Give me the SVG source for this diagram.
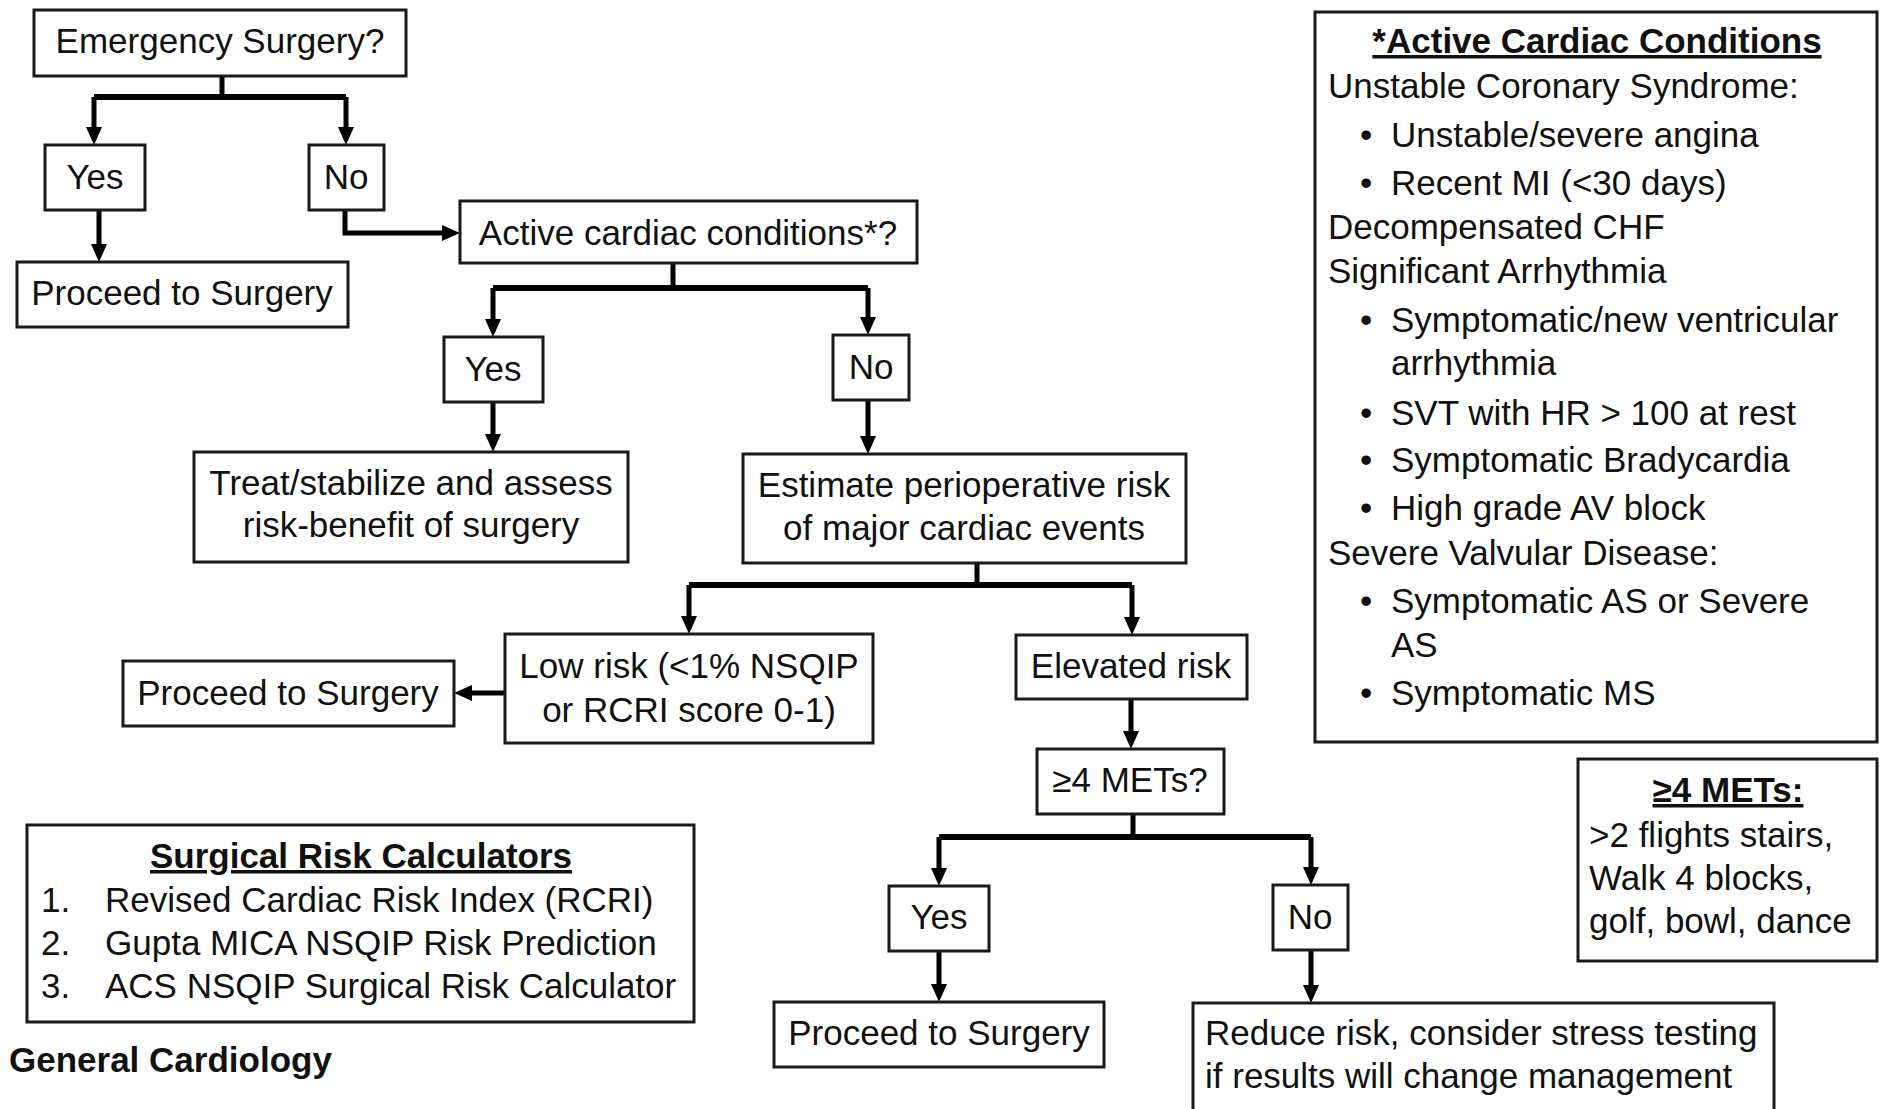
<svg xmlns="http://www.w3.org/2000/svg" width="1880" height="1109" viewBox="0 0 1880 1109">
<style>
.box{fill:#fff;stroke:#1a1a1a;stroke-width:3}
.t{font-family:"Liberation Sans",Arial,sans-serif;font-size:35px;fill:#111}
.c{text-anchor:middle}
.b{font-weight:bold}
.u{text-decoration:underline}
.ln{fill:none;stroke:#000;stroke-width:5}
.bar{fill:none;stroke:#000;stroke-width:6}
</style>
<defs>
<marker id="ah" markerUnits="userSpaceOnUse" markerWidth="18" markerHeight="16" refX="2" refY="8" orient="auto">
<path d="M0,0 L18,8 L0,16 z" fill="#000"/>
</marker>
</defs>
<rect width="1880" height="1109" fill="#fff"/>

<g id="connectors">
<path class="ln" d="M222,76 V97"/>
<path class="bar" d="M94,97 H346"/>
<path class="ln" d="M94,97 V129" marker-end="url(#ah)"/>
<path class="ln" d="M346,97 V129" marker-end="url(#ah)"/>
<path class="ln" d="M99,210 V246" marker-end="url(#ah)"/>
<path class="ln" d="M345,210 V233 H444" marker-end="url(#ah)"/>
<path class="ln" d="M673,263 V288"/>
<path class="bar" d="M493,288 H868"/>
<path class="ln" d="M493,288 V321" marker-end="url(#ah)"/>
<path class="ln" d="M868,288 V319" marker-end="url(#ah)"/>
<path class="ln" d="M493,402 V436" marker-end="url(#ah)"/>
<path class="ln" d="M868,400 V438" marker-end="url(#ah)"/>
<path class="ln" d="M977,563 V585"/>
<path class="bar" d="M689,585 H1132"/>
<path class="ln" d="M689,585 V618" marker-end="url(#ah)"/>
<path class="ln" d="M1132,585 V619" marker-end="url(#ah)"/>
<path class="ln" d="M505,693 H470" marker-end="url(#ah)"/>
<path class="ln" d="M1131,699 V733" marker-end="url(#ah)"/>
<path class="ln" d="M1133,814 V837"/>
<path class="bar" d="M939,837 H1311"/>
<path class="ln" d="M939,837 V870" marker-end="url(#ah)"/>
<path class="ln" d="M1311,837 V869" marker-end="url(#ah)"/>
<path class="ln" d="M939,951 V986" marker-end="url(#ah)"/>
<path class="ln" d="M1311,950 V987" marker-end="url(#ah)"/>
</g>

<g id="emergency"><rect class="box" x="34" y="10" width="372" height="66"/><text class="t c" x="220" y="53">Emergency Surgery?</text></g>
<g id="yes1"><rect class="box" x="45" y="145" width="100" height="65"/><text class="t c" x="95" y="189">Yes</text></g>
<g id="no1"><rect class="box" x="309" y="145" width="75" height="65"/><text class="t c" x="346" y="189">No</text></g>
<g id="proceed1"><rect class="box" x="17" y="262" width="331" height="65"/><text class="t c" x="182" y="305">Proceed to Surgery</text></g>
<g id="active"><rect class="box" x="460" y="201" width="457" height="62"/><text class="t c" x="688" y="245">Active cardiac conditions*?</text></g>
<g id="yes2"><rect class="box" x="444" y="337" width="99" height="65"/><text class="t c" x="493" y="381">Yes</text></g>
<g id="no2"><rect class="box" x="833" y="335" width="76" height="65"/><text class="t c" x="871" y="379">No</text></g>
<g id="treat"><rect class="box" x="194" y="452" width="434" height="110"/><text class="t c" x="411" y="495">Treat/stabilize and assess</text><text class="t c" x="411" y="537">risk-benefit of surgery</text></g>
<g id="estimate"><rect class="box" x="743" y="454" width="443" height="109"/><text class="t c" x="964" y="497">Estimate perioperative risk</text><text class="t c" x="964" y="540">of major cardiac events</text></g>
<g id="lowrisk"><rect class="box" x="505" y="634" width="368" height="109"/><text class="t c" x="689" y="678">Low risk (&lt;1% NSQIP</text><text class="t c" x="689" y="722">or RCRI score 0-1)</text></g>
<g id="proceed2"><rect class="box" x="123" y="661" width="331" height="65"/><text class="t c" x="288" y="705">Proceed to Surgery</text></g>
<g id="elevated"><rect class="box" x="1016" y="635" width="231" height="64"/><text class="t c" x="1131" y="678">Elevated risk</text></g>
<g id="mets"><rect class="box" x="1037" y="749" width="187" height="65"/><text class="t c" x="1130" y="792">≥4 METs?</text></g>
<g id="yes3"><rect class="box" x="889" y="886" width="100" height="65"/><text class="t c" x="939" y="929">Yes</text></g>
<g id="no3"><rect class="box" x="1273" y="885" width="75" height="65"/><text class="t c" x="1310" y="929">No</text></g>
<g id="proceed3"><rect class="box" x="774" y="1002" width="330" height="65"/><text class="t c" x="939" y="1045">Proceed to Surgery</text></g>
<g id="reduce"><rect class="box" x="1193" y="1003" width="581" height="130"/><text class="t" x="1205" y="1045">Reduce risk, consider stress testing</text><text class="t" x="1205" y="1088">if results will change management</text></g>

<g id="legend-active">
<rect class="box" x="1315" y="12" width="562" height="730"/>
<text class="t c b u" x="1597" y="53">*Active Cardiac Conditions</text>
<text class="t" x="1328" y="98">Unstable Coronary Syndrome:</text>
<text class="t" x="1360" y="147">•</text><text class="t" x="1391" y="147">Unstable/severe angina</text>
<text class="t" x="1360" y="195">•</text><text class="t" x="1391" y="195">Recent MI (&lt;30 days)</text>
<text class="t" x="1328" y="239">Decompensated CHF</text>
<text class="t" x="1328" y="283">Significant Arrhythmia</text>
<text class="t" x="1360" y="332">•</text><text class="t" x="1391" y="332">Symptomatic/new ventricular</text>
<text class="t" x="1391" y="375">arrhythmia</text>
<text class="t" x="1360" y="425">•</text><text class="t" x="1391" y="425">SVT with HR &gt; 100 at rest</text>
<text class="t" x="1360" y="472">•</text><text class="t" x="1391" y="472">Symptomatic Bradycardia</text>
<text class="t" x="1360" y="520">•</text><text class="t" x="1391" y="520">High grade AV block</text>
<text class="t" x="1328" y="565">Severe Valvular Disease:</text>
<text class="t" x="1360" y="613">•</text><text class="t" x="1391" y="613">Symptomatic AS or Severe</text>
<text class="t" x="1391" y="657">AS</text>
<text class="t" x="1360" y="705">•</text><text class="t" x="1391" y="705">Symptomatic MS</text>
</g>

<g id="legend-mets">
<rect class="box" x="1578" y="759" width="299" height="202"/>
<text class="t c b u" x="1728" y="802">≥4 METs:</text>
<text class="t" x="1589" y="847">&gt;2 flights stairs,</text>
<text class="t" x="1589" y="890">Walk 4 blocks,</text>
<text class="t" x="1589" y="933">golf, bowl, dance</text>
</g>

<g id="legend-calculators">
<rect class="box" x="27" y="825" width="667" height="197"/>
<text class="t c b u" x="361" y="868">Surgical Risk Calculators</text>
<text class="t" x="41" y="912">1.</text><text class="t" x="105" y="912">Revised Cardiac Risk Index (RCRI)</text>
<text class="t" x="41" y="955">2.</text><text class="t" x="105" y="955">Gupta MICA NSQIP Risk Prediction</text>
<text class="t" x="41" y="998">3.</text><text class="t" x="105" y="998">ACS NSQIP Surgical Risk Calculator</text>
</g>

<g id="footer"><text class="t b" x="9" y="1072">General Cardiology</text></g>
</svg>
